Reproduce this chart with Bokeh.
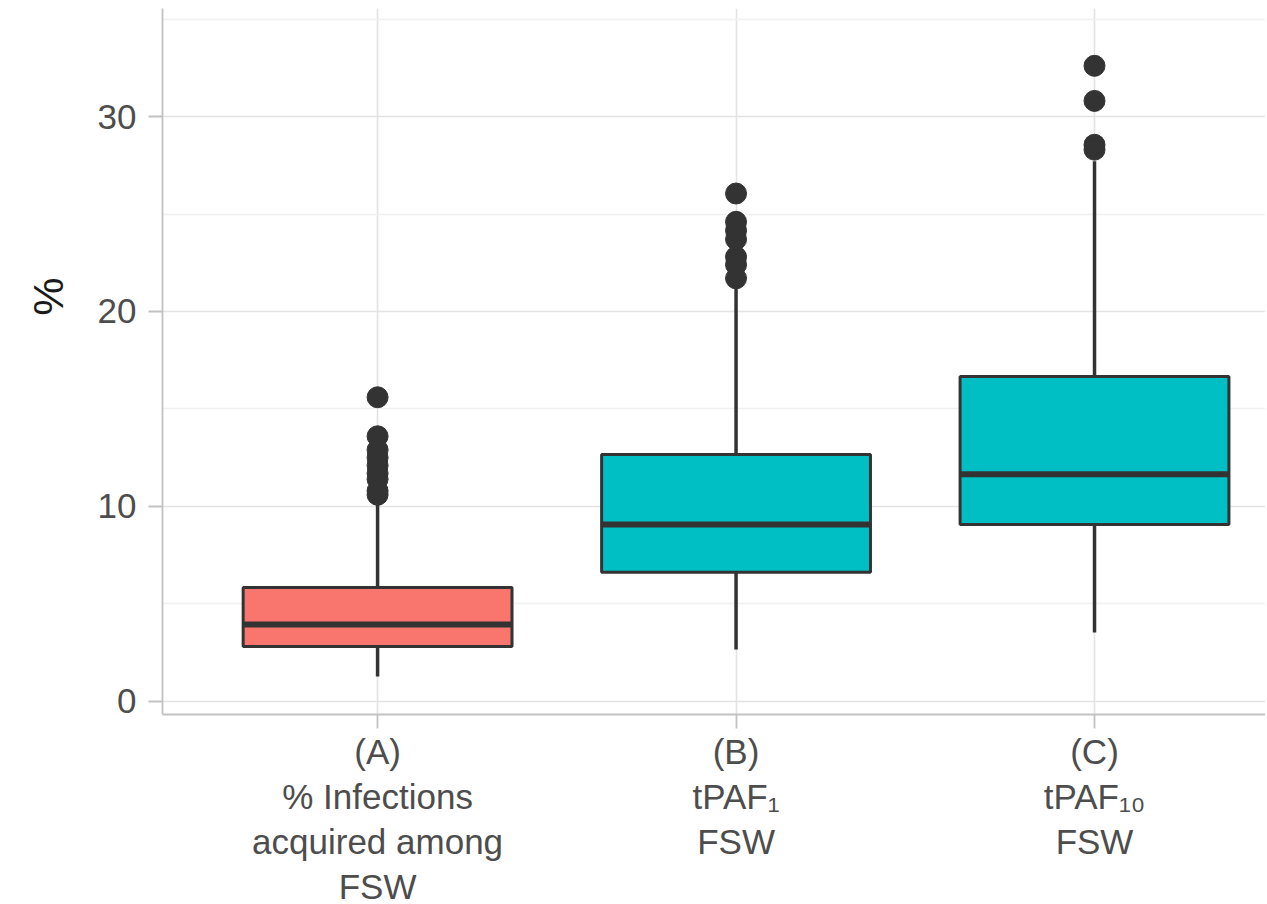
import math
from bokeh.plotting import figure
from bokeh.models import Range1d, FixedTicker, Title
from bokeh.embed import file_html
from bokeh.resources import INLINE

# ---- data ----
categories = ["(A)\n% Infections\nacquired among\nFSW", "(B)\ntPAF\u2081\nFSW", "(C)\ntPAF\u2081\u2080\nFSW"]
xpos = [1, 2, 3]
colors = ["#F8766D", "#00BFC4", "#00BFC4"]
q1 = [2.82, 6.62, 9.08]
median = [3.95, 9.08, 11.65]
q3 = [5.85, 12.67, 16.67]
whisker_low = [1.28, 2.67, 3.54]
whisker_high = [10.4, 21.4, 27.7]
outliers_A = [15.6, 13.6, 12.9, 12.5, 12.1, 11.7, 11.4, 10.8, 10.6]
outliers_B = [26.05, 24.6, 24.15, 23.7, 22.8, 22.4, 21.7]
outliers_C = [32.6, 30.8, 28.55, 28.3]
y_ticks = [0, 10, 20, 30]
y_minor = [5, 15, 25, 35]

p = figure(frame_width=1103, frame_height=706, output_backend="svg",
           toolbar_location=None, x_range=Range1d(0.4, 3.477), y_range=Range1d(-0.67, 35.54),
           min_border_left=162, min_border_right=0, min_border_top=8, min_border_bottom=188)
p.outline_line_color = None
p.background_fill_color = "white"

# grids
p.xgrid.ticker = FixedTicker(ticks=xpos)
p.xgrid.grid_line_color = "#E3E3E3"
p.xgrid.grid_line_width = 1.6
p.ygrid.ticker = FixedTicker(ticks=y_ticks, minor_ticks=y_minor)
p.ygrid.grid_line_color = "#E3E3E3"
p.ygrid.grid_line_width = 1.6
p.ygrid.minor_grid_line_color = "#F0F0F0"
p.ygrid.minor_grid_line_width = 1.3

# axes
p.xaxis.ticker = FixedTicker(ticks=xpos)
p.xaxis.major_label_overrides = {x: c for x, c in zip(xpos, categories)}
p.yaxis.ticker = FixedTicker(ticks=y_ticks)
for ax in (p.xaxis[0], p.yaxis[0]):
    ax.axis_line_color = "#C2C2C2"
    ax.axis_line_width = 1.8
    ax.major_tick_line_color = "#C2C2C2"
    ax.major_tick_line_width = 1.8
    ax.major_tick_out = 14
    ax.major_tick_in = 0
    ax.minor_tick_line_color = None
    ax.major_label_text_font = "Liberation Sans"
    ax.major_label_text_color = "#4D4D4D"
    ax.major_label_text_font_size = "35px"
p.xaxis.major_label_text_line_height = 1.16
p.xaxis.major_label_standoff = 3
p.yaxis.major_label_standoff = 12

# y-axis title
p.add_layout(Title(text="%", align="right", offset=269, vertical_align="top", standoff=41,
                   text_font="Liberation Sans", text_font_size="43px",
                   text_font_style="normal", text_color="#1A1A1A"), "left")

# whiskers
p.segment(x0=xpos, x1=xpos, y0=whisker_low, y1=q1, line_color="#333333", line_width=3.5)
p.segment(x0=xpos, x1=xpos, y0=q3, y1=whisker_high, line_color="#333333", line_width=3.5)
# boxes
p.vbar(x=xpos, width=0.75, bottom=q1, top=q3, fill_color=colors,
       line_color="#333333", line_width=3)
# medians
p.segment(x0=[x - 0.375 for x in xpos], x1=[x + 0.375 for x in xpos],
          y0=median, y1=median, line_color="#333333", line_width=6)
# outliers
ox, oy = [], []
for x, vals in zip(xpos, [outliers_A, outliers_B, outliers_C]):
    ox += [x] * len(vals)
    oy += vals
p.scatter(x=ox, y=oy, size=21, fill_color="#333333", line_color="#333333")

open("out.html", "w").write(file_html(p, INLINE))
